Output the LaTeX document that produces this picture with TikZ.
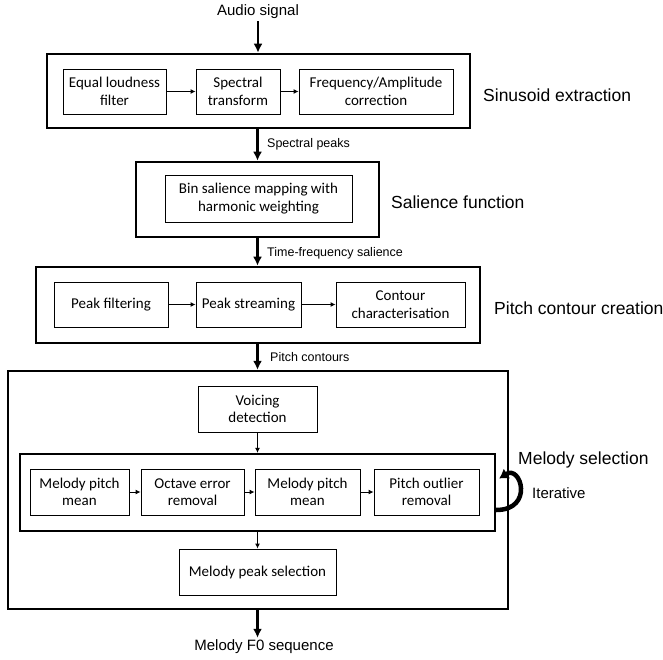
\documentclass[tikz,border=0pt]{standalone}
\usepackage{fontspec}
\setmainfont{Liberation Sans}
\newfontfamily\boxfont{Carlito}
\usepackage{tikz}
\usetikzlibrary{arrows.meta}
\tikzstyle{stage} = [draw=black, line width=2.6pt, inner sep=0pt]
\tikzstyle{block} = [draw=black, line width=0.9pt, inner sep=0pt, align=center, minimum height=45pt, font={\boxfont\fontsize{15}{17.5}\selectfont}]
\tikzstyle{section} = [anchor=west, inner sep=0pt, font={\fontsize{17.5}{20}\selectfont}]
\tikzstyle{signal} = [inner sep=2pt, font={\fontsize{15}{18}\selectfont}]
\tikzstyle{lbl} = [anchor=west, inner sep=0pt, font={\fontsize{12.5}{15}\selectfont}]
\tikzstyle{flow} = [line width=2.4pt, -{Latex[length=9pt,width=9pt]}]
\tikzstyle{link} = [line width=0.9pt, -{Latex[length=5pt,width=5pt]}]

\begin{document}
\begin{tikzpicture}[x=1pt, y=-1pt]
        \useasboundingbox (0,0) rectangle (663,660);
        % input and output
        \node[signal](audio) at (258,12){Audio signal};
        \node[signal](f0) at (264,647){Melody F0 sequence};
        % sinusoid extraction
        \node[stage, minimum width=423pt, minimum height=74pt](sin) at (258.5,91){};
        \node[block, minimum width=103pt](eql) at (114.5,91.5){Equal loudness\\filter};
        \node[block, minimum width=84pt](spec) at (238,91.5){Spectral\\transform};
        \node[block, minimum width=154pt](corr) at (376,91.5){Frequency/Amplitude\\correction};
        \node[section] at (483,95){Sinusoid extraction};
        % salience function
        \node[stage, minimum width=243pt, minimum height=75pt](sal) at (257.5,199.5){};
        \node[block, minimum width=187pt, minimum height=47pt](bin) at (258.5,198.5){Bin salience mapping with\\harmonic weighting};
        \node[section] at (391,202){Salience function};
        % pitch contour creation
        \node[stage, minimum width=444pt, minimum height=76pt](cont) at (258,305){};
        \node[block, minimum width=114pt](filt) at (111,304.5){Peak filtering};
        \node[block, minimum width=105pt](strm) at (248.5,304.5){Peak streaming};
        \node[block, minimum width=129pt](char) at (400.5,304.5){Contour\\characterisation};
        \node[section] at (494,308){Pitch contour creation};
        % melody selection
        \node[stage, line width=2.3pt, minimum width=500pt, minimum height=238pt](mel) at (258,490){};
        \node[block, minimum width=119pt, minimum height=46pt](voic) at (257.5,409){Voicing\\detection};
        \node[stage, line width=2.3pt, minimum width=475pt, minimum height=77pt](iter) at (257.5,492.5){};
        \node[block, minimum width=99pt, minimum height=46pt](mean1) at (79.5,492){Melody pitch\\mean};
        \node[block, minimum width=103pt, minimum height=46pt](oct) at (192.5,492){Octave error\\removal};
        \node[block, minimum width=105pt, minimum height=46pt](mean2) at (307.5,492){Melody pitch\\mean};
        \node[block, minimum width=105pt, minimum height=46pt](outl) at (426.5,492){Pitch outlier\\removal};
        \node[block, minimum width=157pt, minimum height=46pt](peak) at (257.5,572){Melody peak selection};
        \node[section] at (518,460){Melody selection};
        \node[signal, anchor=west, inner sep=0pt](itlbl) at (532,493){Iterative};
        % labels on the flow
        \node[lbl](l1) at (267,144){Spectral peaks};
        \node[lbl](l2) at (267,253){Time-frequency salience};
        \node[lbl](l3) at (270,357){Pitch contours};
        % connections
        \draw[flow](audio)--(sin.north -| audio);
        \draw[flow](sin.south -| sal)--(sal.north);
        \draw[flow](sal.south)--(cont.north -| sal);
        \draw[flow](cont.south -| voic)--(mel.north -| voic);
        \draw[flow](mel.south -| voic)--(f0.north -| voic);
        \draw[link](eql)--(spec);
        \draw[link](spec)--(corr);
        \draw[link](filt)--(strm);
        \draw[link](strm)--(char);
        \draw[link](mean1)--(oct);
        \draw[link](oct)--(mean2);
        \draw[link](mean2)--(outl);
        \draw[link](voic)--(iter.north -| voic);
        \draw[link](iter.south -| peak)--(peak);
        \draw[line width=4.5pt, -{Latex[length=9pt,width=12pt]}]([yshift=-17.5pt]iter.east) .. controls +(38pt,0pt) and +(22pt,14pt) .. ([xshift=3pt,yshift=14pt]iter.east);
      \end{tikzpicture}
\end{document}
